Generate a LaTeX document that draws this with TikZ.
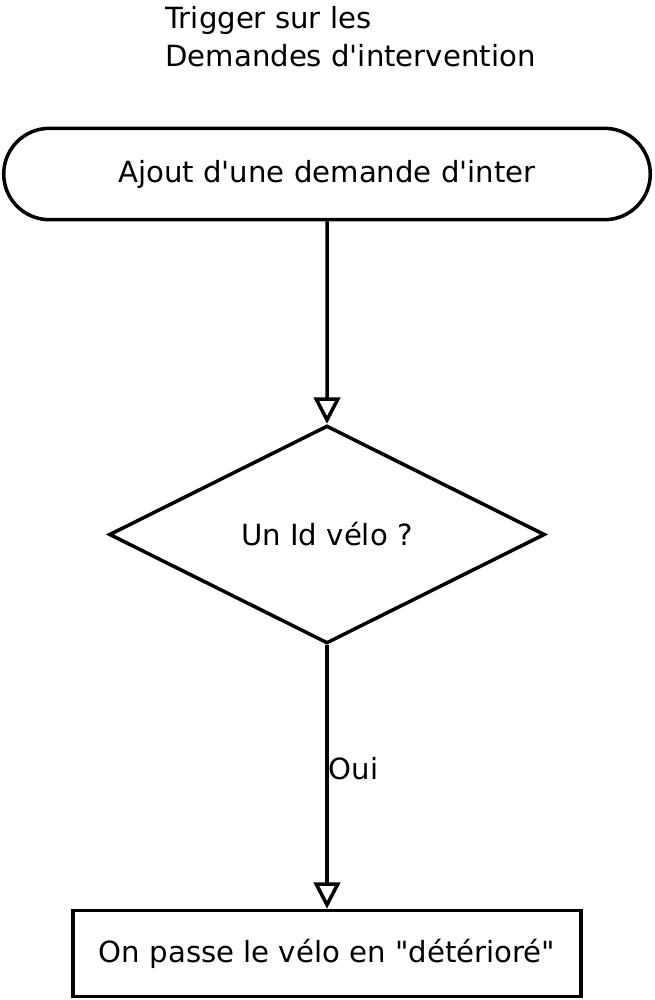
\documentclass[tikz,border=0pt]{standalone}
\usepackage{fontspec}
\setmainfont{DejaVu Sans}
\usetikzlibrary{shapes.geometric,shapes.misc,arrows.meta}
\tikzset{
  flow/.style={line width=2pt},
  flowarrow/.style={flow,-{Triangle[open,length=15pt,width=15pt,line width=2pt]}},
  terminal/.style={flow,draw,rounded rectangle,minimum width=368pt,minimum height=52pt,inner sep=0pt},
  decision/.style={flow,draw,diamond,aspect=2,minimum width=248pt,minimum height=124pt,inner sep=0pt},
  process/.style={flow,draw,rectangle,minimum width=289pt,minimum height=49pt,inner sep=0pt}
}
\newcommand{\apos}{\textquotesingle}
\begin{document}
\begin{tikzpicture}[x=0.02cm,y=-0.02cm]\fontsize{16.6}{21.5}\selectfont
\useasboundingbox (0,0) rectangle (654,1000);
\node[anchor=north west,align=left,inner sep=0pt] (titre) at (165,6) {Trigger sur les\\Demandes d\apos intervention};
\node[terminal] (ajout) at (327,174) {Ajout d\apos une demande d\apos inter};
\node[decision] (idvelo) at (327,534.5) {Un Id vélo ?};
\node[process] (passe) at (327,953.5) {On passe le vélo en \textquotedbl détérioré\textquotedbl};
\draw[flowarrow] (ajout) -- (idvelo);
\draw[flowarrow] (idvelo) -- node[right,pos=0.47,inner sep=0pt] (oui) {Oui} (passe);
\end{tikzpicture}
\end{document}
